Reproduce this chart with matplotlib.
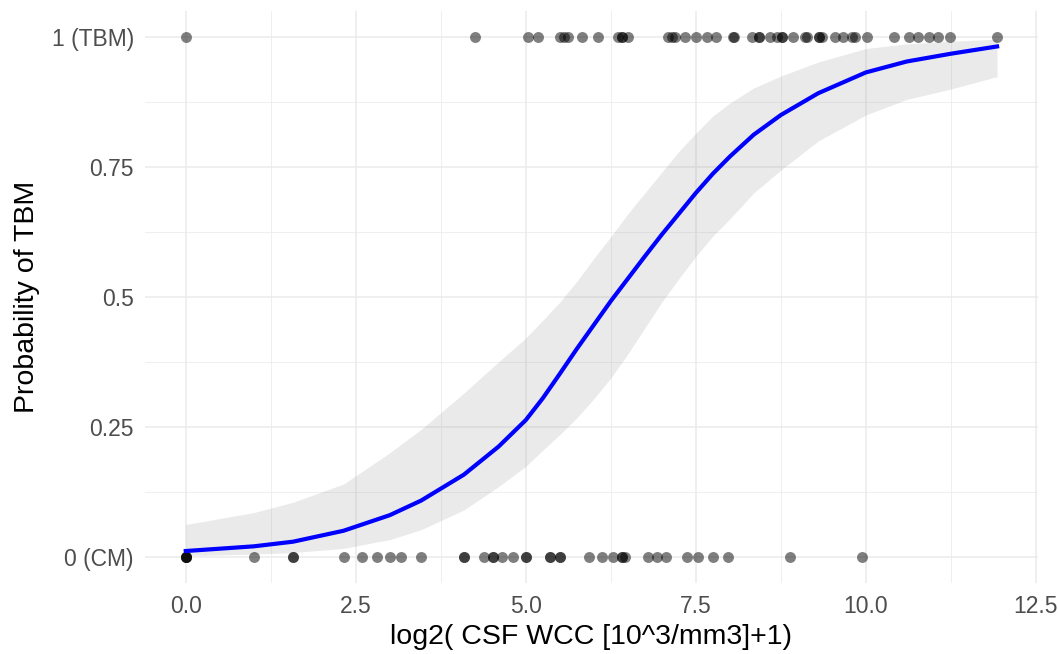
import numpy as np
import matplotlib
matplotlib.use("Agg")
import matplotlib.pyplot as plt

# log2(CSF WCC + 1) values of the points
x_cm = [0, 0, 0, 0, 1.0, 1.58, 1.58, 2.32, 2.59, 2.81, 3.0, 3.17, 3.46,
        4.09, 4.09, 4.39, 4.52, 4.52, 4.65, 4.81, 5.0, 5.0, 5.35, 5.35, 5.5, 5.5,
        5.93, 6.12, 6.28, 6.41, 6.41, 6.46, 6.8, 6.93, 7.06, 7.37, 7.53, 7.75,
        7.97, 8.88, 9.94]
x_tbm = [0, 4.25, 5.03, 5.18, 5.5, 5.56, 5.62, 5.82, 6.06, 6.35, 6.41, 6.41, 6.5,
         7.09, 7.15, 7.19, 7.34, 7.5, 7.66, 7.79, 8.04, 8.06, 8.32, 8.43, 8.43,
         8.59, 8.69, 8.76, 8.76, 8.93, 9.1, 9.13, 9.31, 9.31, 9.35, 9.54, 9.66,
         9.79, 9.84, 10.01, 10.41, 10.63, 10.76, 10.93, 11.06, 11.24, 11.93]

# fitted probability and 95% band
fit_x = [0, 1.0, 1.58, 2.32, 3.0, 3.46, 4.09, 4.6, 5.0, 5.25, 5.5, 5.75, 6.0,
         6.25, 6.5, 6.75, 7.0, 7.25, 7.5, 7.75, 8.0, 8.35, 8.75, 9.3, 10.0, 10.6,
         11.25, 11.93]
fit_p = [0.011, 0.020, 0.029, 0.050, 0.080, 0.108, 0.158, 0.212, 0.263, 0.305,
         0.352, 0.40, 0.446, 0.492, 0.535, 0.578, 0.62, 0.66, 0.70, 0.737, 0.77,
         0.812, 0.85, 0.892, 0.932, 0.953, 0.968, 0.982]
fit_hi = [0.062, 0.085, 0.105, 0.14, 0.20, 0.245, 0.315, 0.375, 0.421, 0.455,
          0.49, 0.53, 0.574, 0.616, 0.66, 0.70, 0.74, 0.78, 0.815, 0.848, 0.873,
          0.902, 0.925, 0.952, 0.978, 0.987, 0.992, 0.996]
fit_lo = [0.002, 0.005, 0.008, 0.016, 0.033, 0.052, 0.09, 0.135, 0.174, 0.205,
          0.235, 0.267, 0.304, 0.344, 0.39, 0.44, 0.49, 0.535, 0.578, 0.617, 0.65,
          0.70, 0.744, 0.80, 0.85, 0.88, 0.90, 0.924]

y_ticks = [0, 0.25, 0.5, 0.75, 1]
y_labels = ["0 (CM)", "0.25", "0.5", "0.75", "1 (TBM)"]
x_ticks = [0, 2.5, 5, 7.5, 10, 12.5]

plt.rcParams["font.family"] = ["Liberation Sans", "DejaVu Sans"]

x = np.array(x_cm + x_tbm, dtype=float)
y = np.array([0] * len(x_cm) + [1] * len(x_tbm), dtype=float)

fig = plt.figure(figsize=(10.58, 6.54), dpi=100)
ax = fig.add_axes([0.137, 0.109, 0.844, 0.874])

ax.fill_between(fit_x, fit_lo, fit_hi, color="#999999", alpha=0.2, lw=0, zorder=2)
ax.scatter(x, y, s=62, color="black", alpha=0.5, lw=0, zorder=3)
ax.plot(fit_x, fit_p, color="blue", lw=3, zorder=4, solid_joinstyle="round")

ax.set_xlim(-0.6, 12.53)
ax.set_ylim(-0.05, 1.05)
ax.set_xticks(x_ticks)
ax.set_yticks(y_ticks)
ax.set_yticklabels(y_labels)
ax.set_xticks(np.arange(1.25, 12.5, 2.5), minor=True)
ax.set_yticks(np.arange(0.125, 1, 0.25), minor=True)
ax.grid(which="major", color="#EBEBEB", lw=1.1, zorder=0)
ax.grid(which="minor", color="#EBEBEB", lw=0.55, zorder=0)
ax.set_axisbelow(True)
for s in ax.spines.values():
    s.set_visible(False)
ax.tick_params(which="both", length=0, labelsize=16.5, labelcolor="#4D4D4D")
ax.tick_params(axis="y", pad=8)
ax.tick_params(axis="x", pad=9)
ax.set_xlabel("log2( CSF WCC [10^3/mm3]+1)", fontsize=20.5, labelpad=4)
ax.set_ylabel("Probability of TBM", fontsize=20.5, labelpad=8)

fig.savefig("out.png", dpi=100)
